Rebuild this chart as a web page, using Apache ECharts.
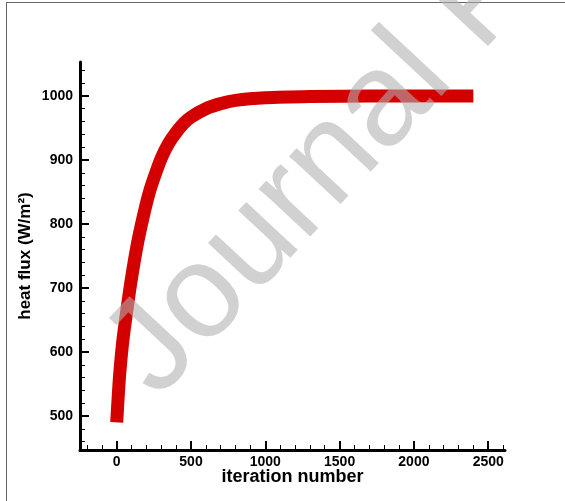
<!DOCTYPE html>
<html>
<head>
<meta charset="utf-8">
<script src="https://cdn.jsdelivr.net/npm/echarts@6/dist/echarts.min.js"></script>
<style>
  html, body { margin: 0; padding: 0; background: #fff; }
  #chart { width: 565px; height: 501px; }
</style>
</head>
<body>
<div id="chart"></div>
<script>
// Convergence history of the wall heat flux
const iterations = [0, 10, 20, 40, 70, 100, 140, 180, 220, 260, 300, 350, 400, 450, 500, 600, 700, 800, 1000, 1300, 1700, 2000, 2400];
const heatFlux   = [490, 530, 565, 615, 668, 716, 770, 813, 850, 878, 903, 926, 943, 957, 967, 980, 988, 993, 997, 999, 1000, 1000, 1000];

const xMajorTicks = [0, 500, 1000, 1500, 2000, 2500];
const xMinorTicks = [-200, -100, 100, 200, 300, 400, 600, 700, 800, 900, 1100, 1200, 1300, 1400,
                     1600, 1700, 1800, 1900, 2100, 2200, 2300, 2400, 2600];
const yMajorTicks = [500, 600, 700, 800, 900, 1000];
const yMinorTicks = [460, 480, 520, 540, 560, 580, 620, 640, 660, 680, 720, 740, 760, 780,
                     820, 840, 860, 880, 920, 940, 960, 980, 1020, 1040];

const xTitle = 'iteration number';
const yTitle = 'heat flux (W/m\u00B2)';
const stamp = 'Journal P';

const FONT = '"Liberation Sans", Arial, Helvetica, sans-serif';
const X_MIN = -247, X_MAX = 2613;
const Y_MIN = 447, Y_MAX = 1053;

const chart = echarts.init(document.getElementById('chart'), null, { renderer: 'canvas' });

const baseAxis = {
  type: 'value',
  splitLine: { show: false },
  axisPointer: { show: false }
};

const plain = v => String(v);

const seriesData = iterations.map((n, i) => [n, heatFlux[i]]);

// watermark placement along a slanted baseline
const ang = 47 * Math.PI / 180;
const stampX = 131, stampY = 375;

chart.setOption({
  animation: false,
  backgroundColor: '#ffffff',
  grid: { left: 80, top: 62, width: 425, height: 388, containLabel: false },
  xAxis: [
    Object.assign({}, baseAxis, {
      min: X_MIN, max: X_MAX,
      position: 'bottom',
      axisLine: { show: true, onZero: false, lineStyle: { color: '#000', width: 3 } },
      axisTick: { show: true, inside: true, length: 9, lineStyle: { color: '#000', width: 2 }, customValues: xMajorTicks },
      axisLabel: { show: true, customValues: xMajorTicks, formatter: plain, color: '#000', fontFamily: FONT, fontWeight: 'bold', fontSize: 14, margin: 5 },
      name: xTitle,
      nameLocation: 'middle',
      nameGap: 18,
      nameMoveOverlap: false,
      nameTextStyle: { color: '#000', fontFamily: FONT, fontWeight: 'bold', fontSize: 18 }
    }),
    Object.assign({}, baseAxis, {
      min: X_MIN, max: X_MAX,
      position: 'bottom',
      axisLine: { show: false, onZero: false },
      axisTick: { show: true, inside: true, length: 5, lineStyle: { color: '#000', width: 1 }, customValues: xMinorTicks },
      axisLabel: { show: false }
    })
  ],
  yAxis: [
    Object.assign({}, baseAxis, {
      min: Y_MIN, max: Y_MAX,
      position: 'left',
      axisLine: { show: true, onZero: false, lineStyle: { color: '#000', width: 3 } },
      axisTick: { show: true, inside: true, length: 9, lineStyle: { color: '#000', width: 2 }, customValues: yMajorTicks },
      axisLabel: { show: true, customValues: yMajorTicks, formatter: plain, color: '#000', fontFamily: FONT, fontWeight: 'bold', fontSize: 14, margin: 7 },
      name: yTitle,
      nameLocation: 'middle',
      nameRotate: 90,
      nameGap: 46,
      nameMoveOverlap: false,
      nameTextStyle: { color: '#000', fontFamily: FONT, fontWeight: 'bold', fontSize: 17 }
    }),
    Object.assign({}, baseAxis, {
      min: Y_MIN, max: Y_MAX,
      position: 'left',
      axisLine: { show: false, onZero: false },
      axisTick: { show: true, inside: true, length: 5, lineStyle: { color: '#000', width: 1 }, customValues: yMinorTicks },
      axisLabel: { show: false }
    })
  ],
  series: [{
    type: 'line',
    xAxisIndex: 0,
    yAxisIndex: 0,
    data: seriesData,
    smooth: 0.3,
    showSymbol: false,
    symbol: 'none',
    clip: false,
    lineStyle: { color: '#d40000', width: 13, cap: 'butt', join: 'round' },
    z: 2
  }],
  graphic: [
    { type: 'line', shape: { x1: 6, y1: 2.5, x2: 565, y2: 2.5 }, style: { stroke: '#666', lineWidth: 1 }, z: 1, silent: true },
    { type: 'line', shape: { x1: 6.5, y1: 2, x2: 6.5, y2: 501 }, style: { stroke: '#666', lineWidth: 1 }, z: 1, silent: true },
    {
      type: 'text',
      x: stampX, y: stampY,
      rotation: ang,
      z: 100,
      silent: true,
      style: {
        text: stamp,
        font: '133px ' + FONT,
        fill: 'rgba(176,176,176,0.58)',
        align: 'left',
        verticalAlign: 'middle'
      }
    }
  ]
});
</script>
</body>
</html>
